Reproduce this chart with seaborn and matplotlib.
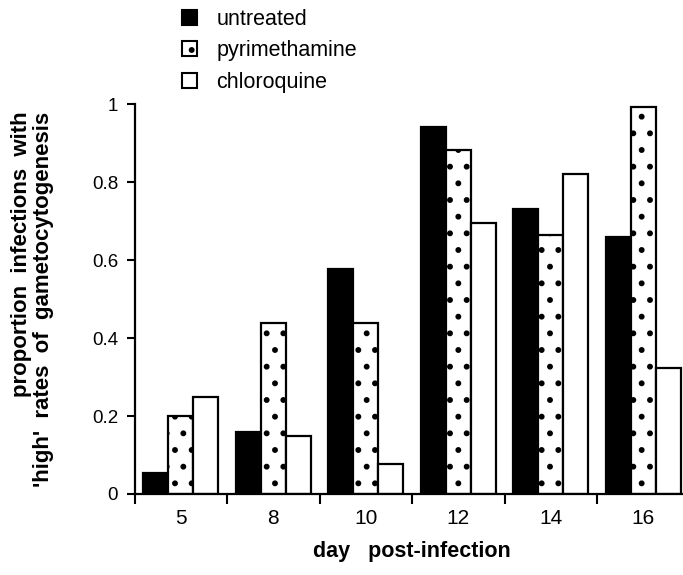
import numpy as np
import pandas as pd
import matplotlib
matplotlib.use("Agg")
import matplotlib.pyplot as plt
import seaborn as sns
from matplotlib.patches import Patch

days = ["5", "8", "10", "12", "14", "16"]
treatments = ["untreated", "pyrimethamine", "chloroquine"]
untreated = [0.053, 0.158, 0.577, 0.941, 0.732, 0.660]
pyrimethamine = [0.200, 0.438, 0.438, 0.884, 0.664, 0.994]
chloroquine = [0.250, 0.148, 0.077, 0.696, 0.821, 0.323]
y_ticks = [0, 0.2, 0.4, 0.6, 0.8, 1]
y_tick_labels = ["0", "0.2", "0.4", "0.6", "0.8", "1"]
x_title = "day   post-infection"
y_title = "proportion  infections  with\n'high'  rates  of  gametocytogenesis"

sns.set_style("ticks")
plt.rcParams["font.family"] = ["Liberation Sans", "DejaVu Sans"]
plt.rcParams["hatch.linewidth"] = 1.8
plt.rcParams["hatch.color"] = "black"
plt.rcParams["text.color"] = "black"
plt.rcParams["axes.labelcolor"] = "black"
plt.rcParams["xtick.color"] = "black"
plt.rcParams["ytick.color"] = "black"

rows = []
for t, vals in zip(treatments, [untreated, pyrimethamine, chloroquine]):
    for d, v in zip(days, vals):
        rows.append({"day": d, "treatment": t, "value": v})
df = pd.DataFrame(rows)

W, H = 683, 575
fig = plt.figure(figsize=(W / 100, H / 100), dpi=100)
x0, x1, yb, yt = 134.7, 689.6, 494.0, 104.3
ax = fig.add_axes([x0 / W, 1 - yb / H, (x1 - x0) / W, (yb - yt) / H])

sns.barplot(data=df, x="day", y="value", hue="treatment", order=days,
            hue_order=treatments, palette=["black", "white", "white"],
            width=0.81, edgecolor="black", linewidth=1.6, ax=ax, legend=False)
for bar in ax.containers[1]:
    bar.set_hatch(".")

ax.set_xlim(-0.5, 5.5)
ax.set_ylim(0, 1)
ax.set_yticks(y_ticks, y_tick_labels)
ax.set_xticks(range(len(days)), days)
ax.set_xticks(np.arange(-0.5, len(days), 1.0), minor=True)
ax.tick_params(axis="x", which="major", length=0, pad=11, labelsize=15,
               labelcolor="black")
ax.tick_params(axis="x", which="minor", length=7, width=1.5, direction="out",
               color="black")
ax.tick_params(axis="y", which="major", length=6, width=1.5, direction="out",
               pad=6, labelsize=13.5, labelcolor="black", color="black")
for s in ["top", "right"]:
    ax.spines[s].set_visible(False)
for s in ["left", "bottom"]:
    ax.spines[s].set_linewidth(1.6)
    ax.spines[s].set_color("black")

ax.set_xlabel(x_title, fontsize=15.5, fontweight="bold", labelpad=9,
              color="black")
ax.set_ylabel(y_title, fontsize=16, fontweight="bold", multialignment="right",
              linespacing=1.05, color="black")
ax.yaxis.set_label_coords((54 - x0) / (x1 - x0), 0.5)

handles = [Patch(facecolor="black", edgecolor="black", linewidth=1.5),
           Patch(facecolor="white", edgecolor="black", linewidth=1.5, hatch="."),
           Patch(facecolor="white", edgecolor="black", linewidth=1.5)]
leg = fig.legend(handles, treatments, loc="upper left",
                 bbox_to_anchor=(182 / W, 1 - 9 / H), frameon=False,
                 fontsize=15.5, handlelength=0.7, handleheight=0.7,
                 handletextpad=0.9, labelspacing=0.48, borderpad=0,
                 borderaxespad=0)
for t in leg.get_texts():
    t.set_color("black")

fig.savefig("out.png", dpi=100)
